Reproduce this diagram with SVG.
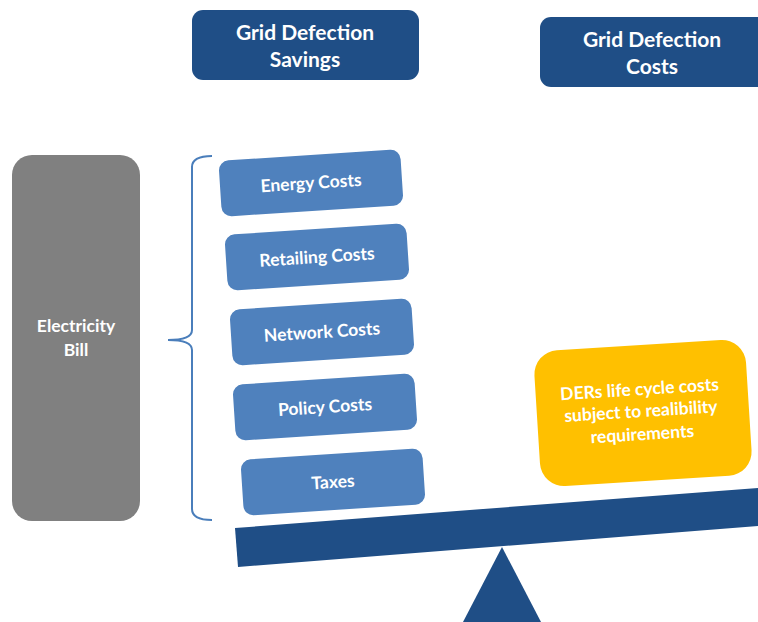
<svg xmlns="http://www.w3.org/2000/svg" width="758" height="622" viewBox="0 0 758 622">
<style>
  .hdr { fill: #1F4E86; }
  .cost { fill: #4F81BD; }
  .t { font-family: Lato, "Open Sans", "Liberation Sans", sans-serif; font-weight: bold; fill: #FFFFFF; text-anchor: middle; }
  .th { font-size: 21px; }
  .tc { font-size: 17.5px; }
  .tb { font-size: 17.5px; }
  .brace { fill: none; stroke: #4A7EBB; stroke-width: 2; }
</style>
<rect x="0" y="0" width="758" height="622" fill="#FFFFFF"/>

<g id="header-savings">
  <rect class="hdr" x="192" y="10" width="227" height="70" rx="11"/>
  <text class="t th" x="305" y="40">Grid Defection</text>
  <text class="t th" x="305" y="67">Savings</text>
</g>

<g id="header-costs">
  <rect class="hdr" x="540" y="17" width="240" height="70" rx="11"/>
  <text class="t th" x="652" y="47">Grid Defection</text>
  <text class="t th" x="652" y="74">Costs</text>
</g>

<g id="electricity-bill">
  <rect x="12" y="155" width="128" height="366" rx="20" fill="#808080"/>
  <text class="t tb" x="76" y="332">Electricity</text>
  <text class="t tb" x="76" y="356">Bill</text>
</g>

<g id="connectors">
  <path class="brace" d="M212,156 Q192,156 192,167 L192,330 Q192,340 168,340 Q192,340 192,350 L192,509 Q192,520 212,520"/>
</g>

<g id="energy-costs" transform="rotate(-3.7 311 183)">
  <rect class="cost" x="220" y="155" width="182" height="56" rx="10"/>
  <text class="t tc" x="311" y="189">Energy Costs</text>
</g>

<g id="retailing-costs" transform="rotate(-3.7 317 257)">
  <rect class="cost" x="226" y="229" width="182" height="56" rx="10"/>
  <text class="t tc" x="317" y="263">Retailing Costs</text>
</g>

<g id="network-costs" transform="rotate(-3.7 322 332)">
  <rect class="cost" x="231" y="304" width="182" height="56" rx="10"/>
  <text class="t tc" x="322" y="338">Network Costs</text>
</g>

<g id="policy-costs" transform="rotate(-3.7 325 407)">
  <rect class="cost" x="234" y="379" width="182" height="56" rx="10"/>
  <text class="t tc" x="325" y="413">Policy Costs</text>
</g>

<g id="taxes" transform="rotate(-3.7 333 482)">
  <rect class="cost" x="242" y="454" width="182" height="56" rx="10"/>
  <text class="t tc" x="333" y="488">Taxes</text>
</g>

<g id="ders-costs" transform="rotate(-3.6 643 413)">
  <rect x="537" y="345" width="212" height="136" rx="24" fill="#FFC000"/>
  <text class="t tb" x="641" y="395">DERs life cycle costs</text>
  <text class="t tb" x="641" y="417">subject to realibility</text>
  <text class="t tb" x="641" y="440">requirements</text>
</g>

<g id="scale">
  <polygon points="235,528 770,487 770,525 238,567" fill="#1F4E86"/>
  <polygon points="502,547 463,622 541,622" fill="#1F4E86"/>
</g>
</svg>
